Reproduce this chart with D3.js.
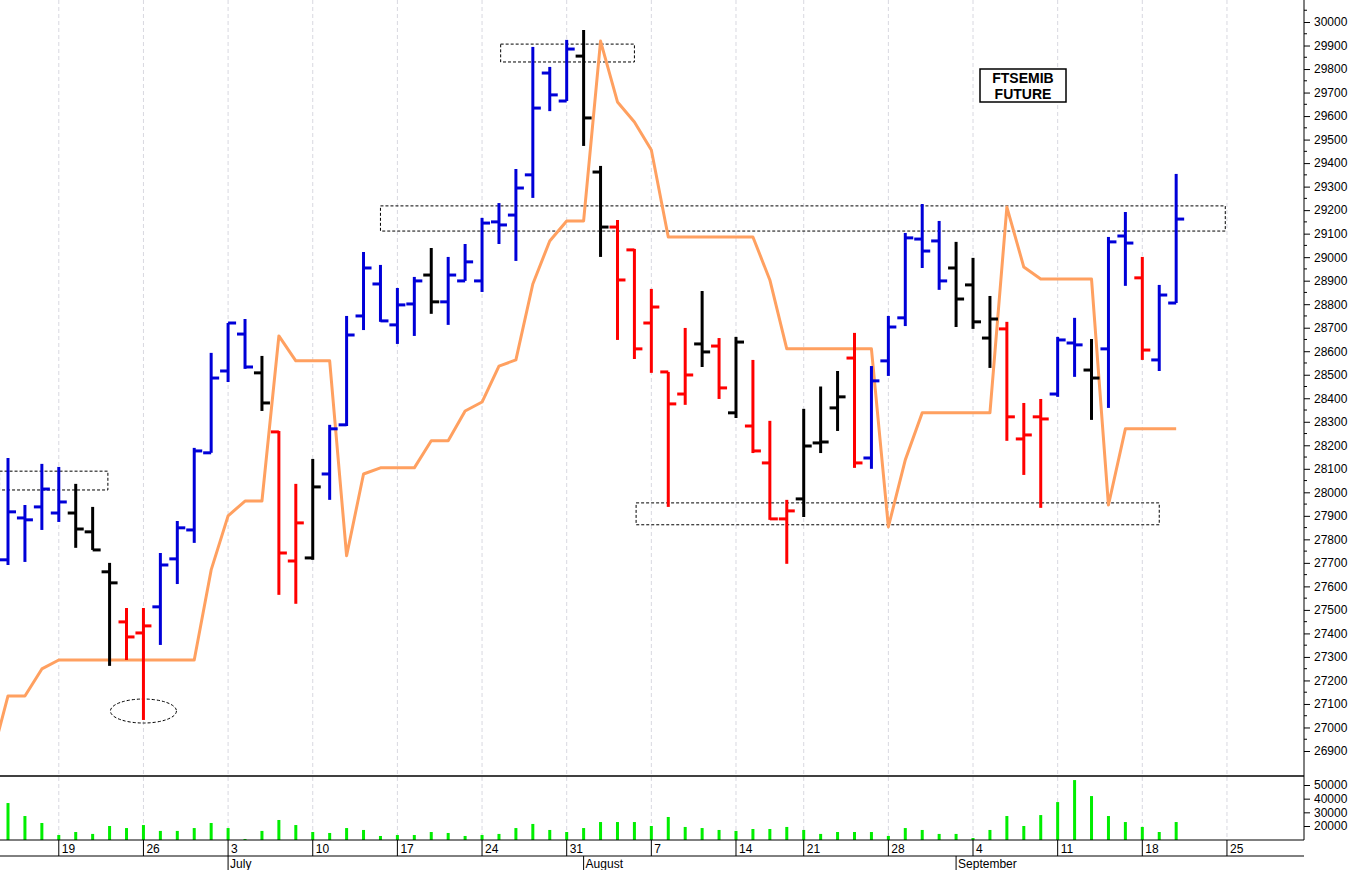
<!DOCTYPE html>
<html>
<head>
<meta charset="utf-8">
<script src="https://cdn.jsdelivr.net/npm/d3@7"></script>
<style>
  body { margin: 0; background: #fff; }
  svg { display: block; font-family: "Liberation Sans", Arial, sans-serif; }
</style>
</head>
<body>
<svg id="chart" width="1352" height="870"></svg>
<script>
// daily bars, index 0 = Wed 14 June
const opens  = [27713,27891,27938,27912,27912,27832,27662,27449,27402,27513,27717,27840,
  28168,28516,28673,28508,28257,27708,27721,28078,28287,28750,28886,28712,28801,28924,28810,28899,28899,29150,29179,29350,29783,29664,29855,29362,29128,29031,28720,
  28512,28418,28631,28622,28338,28282,28125,27887,27972,28210,28359,28571,28146,28559,28742,29077,29069,28954,28882,28656,28695,28227,28321,28418,28635,28520,28610,29090,28912,28563,28805];
const highs  = [28146,27946,28121,28108,28036,27938,27700,27508,27508,27742,27878,28189,
  28593,28720,28737,28580,28261,28036,28142,28287,28750,29022,28967,28869,28916,29039,29001,29056,29167,29230,29375,29894,29809,29924,29966,29388,29158,29035,28865,
  28512,28699,28856,28656,28661,28563,28304,27968,28355,28450,28516,28678,28537,28750,29103,29226,29154,29065,28997,28835,28725,28380,28397,28661,28742,28652,29086,29192,29001,28882,29354];
const lows   = [27691,27704,27840,27874,27764,27755,27262,27287,27032,27351,27610,27785,
  28168,28469,28525,28346,27564,27526,27713,27968,28282,28690,28725,28631,28665,28759,28712,28899,28852,29056,28984,29252,29621,29664,29473,29001,28648,28567,28508,
  27938,28372,28533,28397,28316,28167,27883,27696,27895,28167,28261,28104,28100,28495,28707,28954,28861,28703,28695,28529,28219,28074,27934,28406,28491,28308,28359,28878,28563,28516,28805];
const closes = [27917,27883,28014,27959,27844,27755,27615,27385,27432,27691,27849,28176,
  28486,28720,28533,28380,27742,27870,28023,28270,28669,28954,28729,28797,28899,28810,28924,28980,29145,29137,29294,29634,29690,29885,29592,29128,28903,28610,28788,
  28376,28499,28597,28444,28639,28176,27887,27921,28197,28214,28406,28125,28474,28703,29082,29026,28899,28822,28725,28737,28321,28244,28312,28648,28627,28486,29065,29060,28605,28839,29162];
const trend = "bbbbkkkrrbbb" + "bbbkrrkbbbbbbkbbbbbbbbkkrrr" + "rrkrkrrrkkkrbbbbbkkkrrrbbkbbrbb";

const volumes = [36800,27300,22200,13400,15600,14200,20000,18500,20700,16400,16400,18500,22200,18500,10500,16400,24400,20700,15600,14900,
  18500,17100,12700,13400,13400,15600,14900,12700,13400,14200,18500,21500,17100,15600,18500,22900,22900,22900,20000,26600,
  19300,18500,17100,16400,17800,17800,19300,17100,14200,15600,15600,15600,12700,18500,17100,14200,14200,11200,17100,27300,
  20000,28000,37500,53600,41900,27300,22900,19300,15600,22900];

// orange line, starts one bar before the first visible bar
const lineStart = -1;
const lineValues = [26860,27134,27134,27249,27287,27287,27287,27287,27287,27287,27287,27287,27287,
  27670,27900,27963,27963,28665,28559,28559,28559,27730,28078,28104,28104,28104,28219,28219,28346,28384,28537,28563,
  28886,29069,29154,29154,29919,29660,29575,29456,29086,29086,29086,29086,29086,29086,28903,28610,28610,28610,28610,28610,28610,
  27853,28138,28338,28338,28338,28338,28338,29213,28958,28907,28907,28907,28907,27946,28270,28270,28270,28270];

// week ticks (index of monday) and labels
const weekIdx = [3,8,13,18,23,28,33,38,43,47,52,57,62,67,72];
const weekLabels = ["19","26","3","10","17","24","31","7","14","21","28","4","11","18","25"];
const monthIdx = [13,34,56];
const monthLabels = ["July","August","September"];

const priceTicks = d3.range(26900, 30001, 100);
const volTicks = [20000,30000,40000,50000];

// annotation zones: [i0, i1, p0, p1]
const zones = [[-0.5,5.9,28090,28010],[29.1,37,29906,29830],[22,71.9,29218,29111],[37.1,68,27955,27862]];

const W = 1352, axisX = 1304;
const svg = d3.select("#chart");
const x = d3.scaleLinear().domain([0, 69]).range([8, 8 + 69 * 16.93]);
const y = d3.scaleLinear().domain([26900, 30000]).range([751, 22]);
const yv = d3.scaleLinear().domain([20000, 50000]).range([826, 785]);
const colorOf = { b: "#0000d8", r: "#ff0000", k: "#000000" };

svg.append("defs").append("clipPath").attr("id", "clipP")
  .append("rect").attr("x", 0).attr("y", 0).attr("width", axisX).attr("height", 776);

// weekly grid
svg.append("g").selectAll("line").data(weekIdx).join("line")
  .attr("x1", d => x(d)).attr("x2", d => x(d)).attr("y1", 0).attr("y2", 840)
  .attr("stroke", "#d8d8e0").attr("stroke-dasharray", "4,3");

// zones
svg.append("g").selectAll("rect").data(zones).join("rect")
  .attr("x", d => x(d[0])).attr("width", d => x(d[1]) - x(d[0]))
  .attr("y", d => y(d[2])).attr("height", d => y(d[3]) - y(d[2]))
  .attr("fill", "none").attr("stroke", "#000").attr("stroke-dasharray", "3,2");
svg.append("ellipse").attr("cx", x(8)).attr("cy", y(27070)).attr("rx", 33).attr("ry", 12)
  .attr("fill", "none").attr("stroke", "#000").attr("stroke-dasharray", "3,2");

// orange line
const line = d3.line().x((d, i) => x(i + lineStart)).y(d => y(d));
svg.append("path").datum(lineValues).attr("d", line).attr("clip-path", "url(#clipP)")
  .attr("fill", "none").attr("stroke", "#ffa060").attr("stroke-width", 3).attr("stroke-linejoin", "round");

// OHLC bars
const bars = svg.append("g").attr("stroke-width", 3).selectAll("g").data(opens.map((o, i) => i)).join("g")
  .attr("stroke", i => colorOf[trend[i]]);
bars.append("line").attr("x1", i => x(i)).attr("x2", i => x(i)).attr("y1", i => y(highs[i])).attr("y2", i => y(lows[i]));
bars.append("line").attr("x1", i => x(i) - 8).attr("x2", i => x(i)).attr("y1", i => y(opens[i])).attr("y2", i => y(opens[i]));
bars.append("line").attr("x1", i => x(i)).attr("x2", i => x(i) + 8).attr("y1", i => y(closes[i])).attr("y2", i => y(closes[i]));

// title box
const tb = svg.append("g").attr("transform", "translate(980,69)");
tb.append("rect").attr("width", 86).attr("height", 33).attr("fill", "#fff").attr("stroke", "#000").attr("stroke-width", 1.5);
tb.append("text").attr("x", 43).attr("y", 14).attr("text-anchor", "middle").attr("font-size", 14).attr("font-weight", "bold").text("FTSEMIB");
tb.append("text").attr("x", 43).attr("y", 30).attr("text-anchor", "middle").attr("font-size", 14).attr("font-weight", "bold").text("FUTURE");

// price axis
const ay = svg.append("g").attr("transform", `translate(${axisX},0)`)
  .call(d3.axisRight(y).tickValues(priceTicks).tickSize(6).tickPadding(4).tickFormat(d3.format("d")));
ay.select(".domain").attr("d", "M0,0V776");
ay.selectAll("text").attr("font-size", 12).attr("font-family", "Liberation Sans, Arial");
svg.append("g").selectAll("line").data(priceTicks.map(d => d + 50)).join("line")
  .attr("x1", axisX).attr("x2", axisX + 3).attr("y1", d => y(d)).attr("y2", d => y(d)).attr("stroke", "#000");

// volume panel
svg.append("g").selectAll("rect").data(volumes).join("rect")
  .attr("x", (d, i) => x(i) - 1.5).attr("width", 3)
  .attr("y", d => yv(d)).attr("height", d => 840 - yv(d)).attr("fill", "#00ee00");
const av = svg.append("g").attr("transform", `translate(${axisX},0)`)
  .call(d3.axisRight(yv).tickValues(volTicks).tickSize(6).tickPadding(4).tickFormat(d3.format("d")));
av.select(".domain").attr("d", "M0,776V840");
av.selectAll("text").attr("font-size", 12).attr("font-family", "Liberation Sans, Arial");

// frame lines
[776, 840, 856].forEach(v => svg.append("line").attr("x1", 0).attr("x2", axisX).attr("y1", v).attr("y2", v)
  .attr("stroke", "#000").attr("stroke-width", v === 776 ? 1.5 : 1));

// date axis
const wk = svg.append("g").selectAll("g").data(weekIdx).join("g");
wk.append("line").attr("x1", d => x(d)).attr("x2", d => x(d)).attr("y1", 840).attr("y2", 856).attr("stroke", "#000");
wk.append("text").attr("x", d => x(d) + 3).attr("y", 853).attr("font-size", 12).text((d, i) => weekLabels[i]);
const mo = svg.append("g").selectAll("g").data(monthIdx).join("g");
mo.append("line").attr("x1", d => x(d)).attr("x2", d => x(d)).attr("y1", 856).attr("y2", 870).attr("stroke", "#000");
mo.append("text").attr("x", d => x(d) + 2).attr("y", 868).attr("font-size", 12).text((d, i) => monthLabels[i]);
</script>
</body>
</html>
